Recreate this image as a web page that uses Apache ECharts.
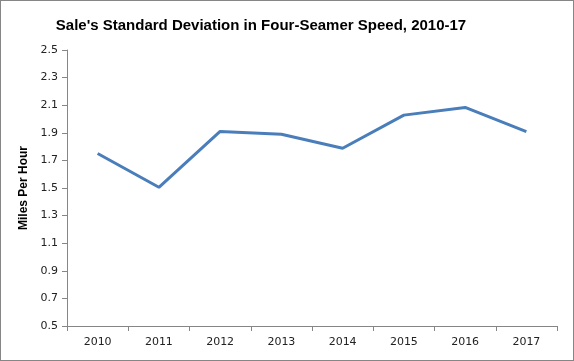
<!DOCTYPE html>
<html><head><meta charset="utf-8">
<script src="https://cdn.jsdelivr.net/npm/echarts@6/dist/echarts.min.js"></script>
<style>
html,body{margin:0;padding:0;background:#fff;}
#c{width:572px;height:359px;border:1px solid #868686;}
</style></head>
<body><div id="c"></div>
<script>
const categories = ['2010','2011','2012','2013','2014','2015','2016','2017'];
const stdDev = [1.75, 1.505, 1.91, 1.89, 1.788, 2.028, 2.084, 1.908];
const titleText = "Sale's Standard Deviation in Four-Seamer Speed, 2010-17";
const yAxisName = 'Miles Per Hour';

const chart = echarts.init(document.getElementById('c'), null, {renderer:'canvas'});
chart.setOption({
  animation:false,
  title:{
    text:titleText, left:255, top:12, textAlign:'center',
    textStyle:{fontFamily:'Liberation Sans, sans-serif',fontWeight:'bold',fontSize:15,color:'#000'}
  },
  grid:{left:66, right:16, top:49, bottom:34, containLabel:false},
  xAxis:{
    type:'category', data:categories, boundaryGap:true,
    axisLine:{lineStyle:{color:'#868686',width:1}},
    axisTick:{show:true,length:5,lineStyle:{color:'#868686'}},
    axisLabel:{color:'#222',fontSize:11,fontFamily:'DejaVu Sans, sans-serif',margin:11}
  },
  yAxis:{
    type:'value', min:0.5, max:2.5, interval:0.2,
    name:yAxisName, nameLocation:'middle', nameGap:32, nameRotate:90,
    nameTextStyle:{fontWeight:'bold',fontSize:12,color:'#000',fontFamily:'Liberation Sans, sans-serif'},
    axisLine:{show:true,lineStyle:{color:'#868686',width:1}},
    axisTick:{show:true,length:5,lineStyle:{color:'#868686'}},
    splitLine:{show:false},
    axisLabel:{color:'#222',fontSize:11,fontFamily:'DejaVu Sans, sans-serif',margin:9,
      formatter:v=>v.toFixed(1)}
  },
  series:[{
    type:'line', data:stdDev, showSymbol:false, symbol:'none',
    lineStyle:{color:'#4a7ebb',width:3}
  }]
});
</script></body></html>
